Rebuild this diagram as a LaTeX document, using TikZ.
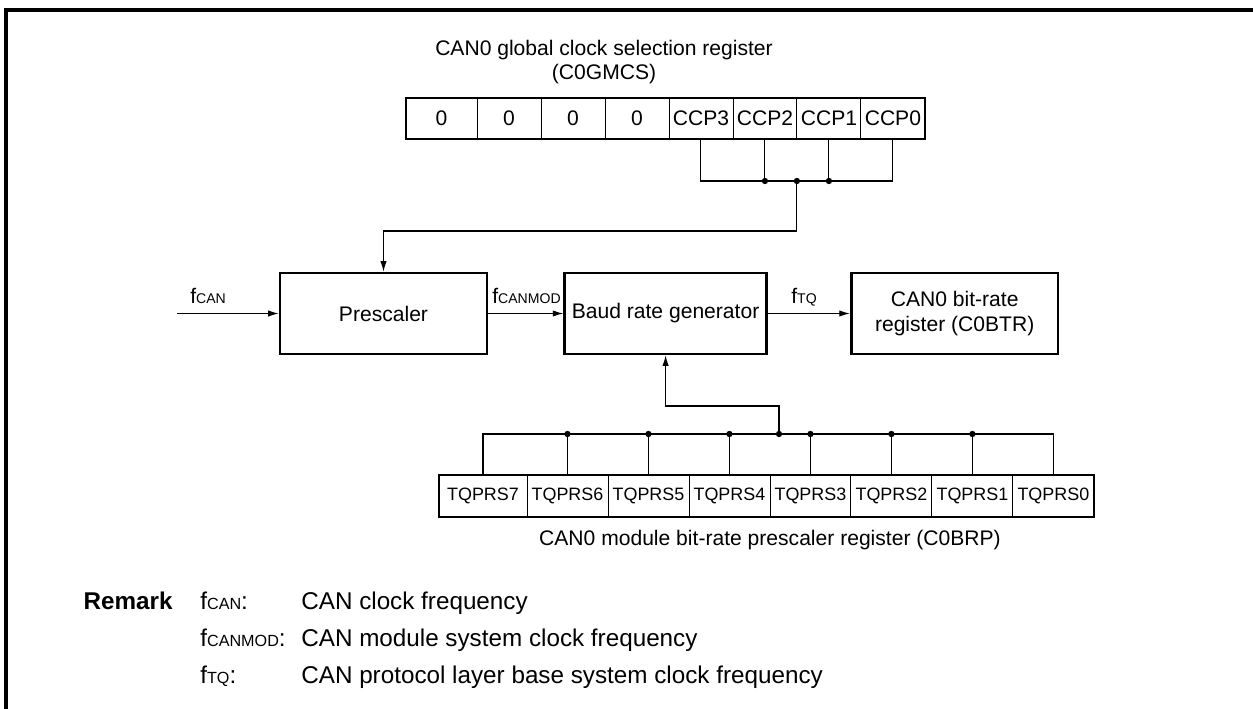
\documentclass[tikz,border=0pt]{standalone}
\usepackage{fontspec}
\setmainfont{Liberation Sans}
\usetikzlibrary{arrows.meta,positioning}
\newcommand{\fsub}[1]{f{\fontsize{8}{9}\selectfont #1}}
\newcommand{\fsubr}[1]{f{\fontsize{9.2}{10}\selectfont #1}}

\begin{document}
\begin{tikzpicture}[x=0.02cm,y=-0.02cm, node distance=1.5cm,
  every node/.style={font=\fontsize{12}{14}\selectfont,align=center,inner sep=0pt},
  blk/.style={draw,line width=1.5pt,minimum height=1.62cm},
  cell/.style={draw,line width=0.5pt,outer sep=0pt,minimum height=0.82cm,minimum width=1.28cm},
  tcell/.style={draw,line width=0.5pt,outer sep=0pt,minimum height=0.84cm,minimum width=1.62cm,font=\fontsize{10.2}{12}\selectfont},
  remtext/.style={anchor=base west,font=\fontsize{13.8}{16}\selectfont},
  wire/.style={line width=0.6pt},
  tip/.style={-{Latex[length=6pt,width=3.6pt]}}]
\useasboundingbox (0,0) rectangle (1253,709);
\draw[line width=1.9pt] (6,709) -- (6,10) -- (1253,10);

% CAN0 global clock selection register
\node (gtitle) at (604,62) {CAN0 global clock selection register\\(C0GMCS)};
\node[cell,minimum width=1.42cm,anchor=west] (g7) at (406,118.5) {0};
\node[cell,right=0pt of g7] (g6) {0}; \node[cell,right=0pt of g6] (g5) {0}; \node[cell,right=0pt of g5] (g4) {0};
\node[cell,right=0pt of g4] (g3) {CCP3}; \node[cell,right=0pt of g3] (g2) {CCP2}; \node[cell,right=0pt of g2] (g1) {CCP1}; \node[cell,right=0pt of g1] (g0) {CCP0};
\draw[line width=1.1pt] (g7.north west) rectangle (g0.south east);

% main blocks
\node[blk,minimum width=4.14cm] (prescaler) at (383.5,313.5) {Prescaler};
\node[blk,minimum width=4.04cm,right=of prescaler] (baud) {Baud rate generator};
\node[blk,minimum width=4.14cm,right=1.64cm of baud] (bitrate) {CAN0 bit-rate\\register (C0BTR)};

% CAN0 module bit-rate prescaler register
\node[tcell,minimum width=1.76cm,anchor=west] (t7) at (439,496) {TQPRS7};
\node[tcell,right=0pt of t7] (t6) {TQPRS6}; \node[tcell,right=0pt of t6] (t5) {TQPRS5}; \node[tcell,right=0pt of t5] (t4) {TQPRS4};
\node[tcell,right=0pt of t4] (t3) {TQPRS3}; \node[tcell,right=0pt of t3] (t2) {TQPRS2}; \node[tcell,right=0pt of t2] (t1) {TQPRS1}; \node[tcell,right=0pt of t1] (t0) {TQPRS0};
\draw[line width=1.1pt] (t7.north west) rectangle (t0.south east);
\node (ttitle) at (770,540) {CAN0 module bit-rate prescaler register (C0BRP)};

% clock path
\coordinate (fin) at (177,313.5);
\node[anchor=base west] (lcan) at (190,303) {\fsub{CAN}};
\node[anchor=base west] (lmod) at (492,303) {\fsub{CANMOD}};
\node[anchor=base west] (ltq) at (791,303) {\fsub{TQ}};
\draw[wire,tip] (fin) -- (prescaler); \draw[wire,tip] (prescaler) -- (baud); \draw[wire,tip] (baud) -- (bitrate);

% CCP selection bus
\coordinate (gj) at (g2.south east |- 0,181);
\draw[wire] (g3.south) -- (g3.south |- 0,181) -- (g0.south |- 0,181) -- (g0.south);
\draw[wire] (g2.south) -- (g2.south |- 0,181); \draw[wire] (g1.south) -- (g1.south |- 0,181);
\draw[wire,tip] (gj) |- (prescaler.north |- 0,231) -- (prescaler.north);
\fill (g2.south |- 0,181) circle[radius=1.8pt] (gj) circle[radius=1.8pt] (g1.south |- 0,181) circle[radius=1.8pt];

% TQPRS bus
\coordinate (tj) at (779,434);
\draw[wire] (t7.north) -- (t7.north |- 0,434) -- (t0.north |- 0,434) -- (t0.north);
\draw[wire] (t6.north) -- (t6.north |- 0,434); \draw[wire] (t5.north) -- (t5.north |- 0,434); \draw[wire] (t4.north) -- (t4.north |- 0,434);
\draw[wire] (t3.north) -- (t3.north |- 0,434); \draw[wire] (t2.north) -- (t2.north |- 0,434); \draw[wire] (t1.north) -- (t1.north |- 0,434);
\draw[wire,tip] (tj) |- (baud.south |- 0,406) -- (baud.south);
\fill (t6.north |- 0,434) circle[radius=1.8pt] (t5.north |- 0,434) circle[radius=1.8pt] (t4.north |- 0,434) circle[radius=1.8pt] (tj) circle[radius=1.8pt]
  (t3.north |- 0,434) circle[radius=1.8pt] (t2.north |- 0,434) circle[radius=1.8pt] (t1.north |- 0,434) circle[radius=1.8pt];

% remark
\node[anchor=base east,font=\fontsize{13.8}{16}\selectfont\bfseries] (remark) at (173,609) {Remark};
\node[remtext] (r1) at (200,609) {\fsubr{CAN}:};
\node[remtext] (d1) at (301,609) {CAN clock frequency};
\node[remtext] (r2) at (200,646) {\fsubr{CANMOD}:};
\node[remtext] (d2) at (301,646) {CAN module system clock frequency};
\node[remtext] (r3) at (200,683) {\fsubr{TQ}:};
\node[remtext] (d3) at (301,683) {CAN protocol layer base system clock frequency};
\end{tikzpicture}
\end{document}
